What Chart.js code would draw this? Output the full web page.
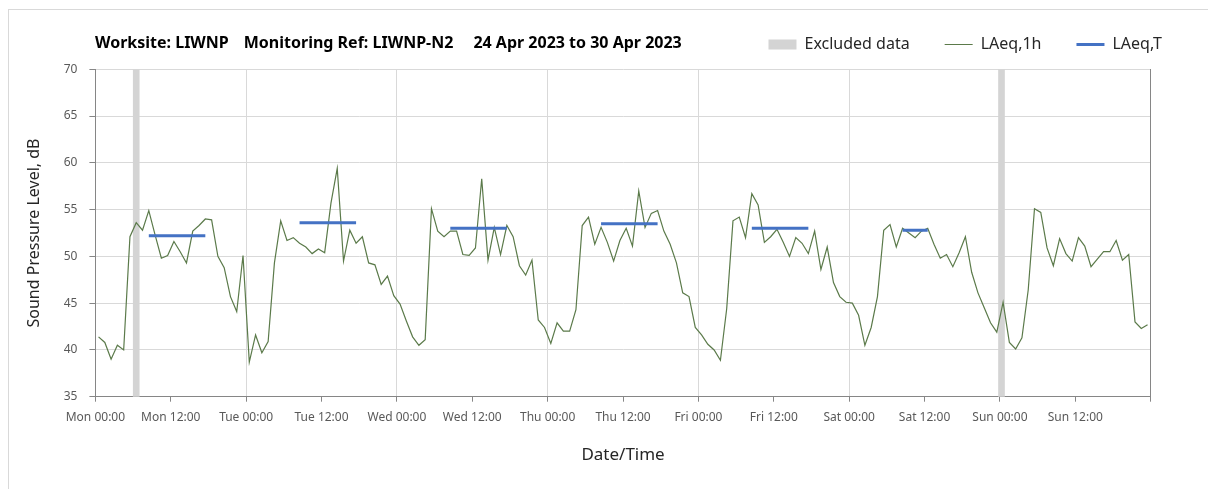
<!DOCTYPE html>
<html>
<head>
<meta charset="utf-8">
<script src="https://cdn.jsdelivr.net/npm/chart.js@4.4.1/dist/chart.umd.min.js"></script>
<style>
  html, body { margin:0; padding:0; background:#fff; }
  #wrap { position:relative; width:1208px; height:489px; }
  #frame { position:absolute; left:8px; top:9px; right:0; bottom:0; border-top:1px solid #d9d9d9; border-left:1px solid #d9d9d9; }
  #title { position:absolute; left:95px; top:31px; font:bold 16px "Noto Sans", sans-serif; color:#000; white-space:nowrap; }
  #title span { margin-right:15px; }
  #title span.gap { margin-right:20px; }
  canvas { position:absolute; left:0; top:0; }
</style>
</head>
<body>
<div id="wrap">
  <div id="frame"></div>
  <canvas id="chart" width="1208" height="489"></canvas>
  <div id="title"><span>Worksite: LIWNP</span><span class="gap">Monitoring Ref: LIWNP-N2</span>24 Apr 2023 to 30 Apr 2023</div>
</div>
<script>
// ── data ─────────────────────────────────────────────
// x axis: hours since Mon 00:00, hourly values plotted at mid-hour
const tickLabels = ['Mon 00:00','Mon 12:00','Tue 00:00','Tue 12:00','Wed 00:00','Wed 12:00','Thu 00:00',
  'Thu 12:00','Fri 00:00','Fri 12:00','Sat 00:00','Sat 12:00','Sun 00:00','Sun 12:00'];

const laeq1h = [
  41.4,40.8,39.0,40.5,40.0,52.1,53.6,52.8,54.9,52.3,49.8,50.1,51.6,50.5,49.3,52.7,53.3,54.0,53.9,50.0,48.8,45.7,44.1,50.1,
  38.7,41.6,39.7,40.9,49.3,53.8,51.7,52.0,51.4,51.0,50.3,50.8,50.4,55.7,59.4,49.5,52.8,51.4,52.1,49.3,49.1,47.0,47.9,45.8,
  44.9,43.1,41.4,40.5,41.1,55.1,52.7,52.1,52.7,52.7,50.2,50.1,50.9,58.3,49.6,53.1,50.2,53.3,52.1,49.0,48.0,49.6,43.2,42.4,
  40.7,42.9,42.0,42.0,44.3,53.3,54.2,51.3,53.1,51.5,49.5,51.7,53.0,51.1,57.0,53.1,54.6,54.9,52.7,51.3,49.3,46.1,45.7,42.4,
  41.6,40.6,40.0,38.9,44.4,53.8,54.2,52.0,56.7,55.5,51.5,52.1,52.9,51.5,50.0,52.0,51.4,50.3,52.7,48.6,51.0,47.2,45.7,45.1,
  45.0,43.7,40.5,42.4,45.7,52.8,53.4,51.0,53.0,52.5,52.0,52.7,53.0,51.3,49.8,50.2,48.9,50.4,52.1,48.3,46.1,44.5,42.9,41.9,
  45.1,40.8,40.1,41.3,46.4,55.1,54.7,50.9,49.0,51.9,50.3,49.5,52.0,51.1,48.9,49.7,50.5,50.5,51.7,49.6,50.2,43.0,42.3,42.7
];

// LAeq,T periods (hour from / hour to, level)
const laeqTStart = [8.5, 32.5, 56.5, 80.5, 104.5, 128.5];
const laeqTEnd   = [17.5, 41.5, 65.5, 89.5, 113.5, 132.5];
const laeqTLevel = [52.2, 53.6, 53.0, 53.5, 53.0, 52.8];

// excluded hours
const excludedHours = [6.5, 144.25];

// ── build series ─────────────────────────────────────
const pts1h = laeq1h.map((v,i)=>({x:i+0.5, y:v}));
const ptsT = [];
laeqTStart.forEach((s,i)=>{
  ptsT.push({x:s, y:laeqTLevel[i]}, {x:laeqTEnd[i], y:laeqTLevel[i]}, {x:laeqTEnd[i], y:null});
});

const FONT = '"Noto Sans", sans-serif';
const AXIS = '#868686', GRID = '#d9d9d9', TXT = '#595959';

new Chart(document.getElementById('chart'), {
  type:'line',
  data:{datasets:[
    {type:'bar',label:'Excluded data',data:excludedHours.map(h=>({x:h,y:[35,70]})),
      backgroundColor:'#d4d4d4',borderWidth:0,barThickness:6,pointStyle:'rect',order:3,xAxisID:'x',yAxisID:'y'},
    {label:'LAeq,1h',data:pts1h,borderColor:'#5b7a4a',backgroundColor:'#5b7a4a',borderWidth:1.2,
      pointRadius:0,tension:0,pointStyle:'line',order:2,xAxisID:'x',yAxisID:'y'},
    {label:'LAeq,T',data:ptsT,borderColor:'#4472c4',backgroundColor:'#4472c4',borderWidth:3,
      pointRadius:0,spanGaps:false,pointStyle:'line',order:1,xAxisID:'x',yAxisID:'y'}
  ]},
  options:{
    responsive:false, animation:false,
    layout:{padding:{top:1.5,right:11,bottom:20,left:11}},
    plugins:{
      tooltip:{enabled:false},
      legend:{align:'end',reverse:true,
        labels:{usePointStyle:true,pointStyleWidth:28,boxHeight:10,padding:35,color:'#262626',
          font:{family:FONT,size:16}}}
    },
    scales:{
      x:{type:'linear',position:'bottom',min:0,max:168,offset:false,
        afterFit:s=>{s.height=72.3;},
        ticks:{stepSize:12,autoSkip:false,maxRotation:0,padding:9,color:TXT,font:{family:FONT,size:12},
          callback:v=>tickLabels[v/12] ?? ''},
        grid:{offset:false,color:c=>(c.tick && c.tick.value%24===0 && c.tick.value>0 && c.tick.value<168) ? GRID : 'rgba(0,0,0,0)',
          tickColor:AXIS,tickLength:5},
        border:{color:AXIS},
        title:{display:true,text:'Date/Time',color:'#262626',font:{family:FONT,size:17},padding:{top:4,bottom:4}}},
      xTop:{type:'linear',position:'top',min:0,max:168,
        afterFit:s=>{s.height=6.8;},
        ticks:{display:false},grid:{display:false,drawTicks:false},border:{display:false}},
      y:{min:35,max:70,
        afterFit:s=>{s.width=84.4;},
        ticks:{stepSize:5,padding:12,color:TXT,font:{family:FONT,size:12}},
        grid:{color:GRID,tickColor:AXIS,tickLength:6},
        border:{color:AXIS},
        title:{display:true,text:'Sound Pressure Level, dB',color:'#262626',font:{family:FONT,size:16},padding:{top:14,bottom:0}}},
      yRight:{position:'right',min:35,max:70,
        afterFit:s=>{s.width=46.3;},
        ticks:{display:false},grid:{display:false,drawTicks:false},border:{color:AXIS}}
    }
  }
});
</script>
</body>
</html>
